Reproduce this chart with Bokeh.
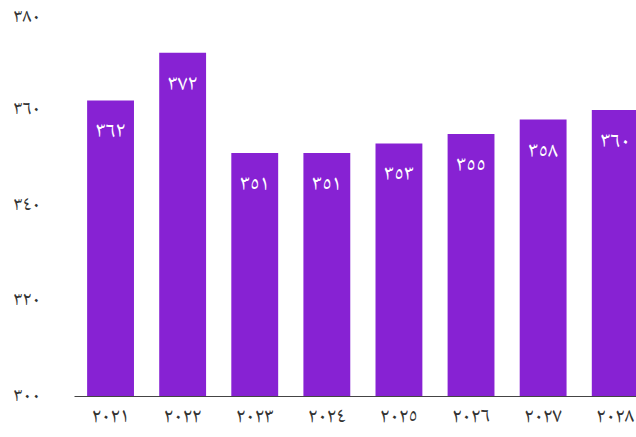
from bokeh.plotting import figure
from bokeh.models import Range1d, FixedTicker, ColumnDataSource
from bokeh.core.properties import value
from bokeh.embed import file_html
from bokeh.resources import INLINE

years = ["2021", "2022", "2023", "2024", "2025", "2026", "2027", "2028"]
values = [362, 372, 351, 351, 353, 355, 358, 360]
y_ticks = [300, 320, 340, 360, 380]

AR = str.maketrans("0123456789", "٠١٢٣٤٥٦٧٨٩")
def ar(s):
    return str(s).translate(AR)

xs = list(range(len(years)))
src = ColumnDataSource(dict(x=xs, top=values, lab=[ar(v) for v in values]))

p = figure(width=636, height=437, output_backend="svg", toolbar_location=None,
           x_range=Range1d(-0.5, 7.295), y_range=Range1d(300, 380),
           min_border_left=74, min_border_right=0, min_border_top=14, min_border_bottom=0)
p.outline_line_color = None
p.background_fill_color = "white"
p.border_fill_color = "white"
p.xgrid.visible = False
p.ygrid.visible = False

fnt = "Noto Naskh Arabic"
p.vbar(x="x", top="top", bottom=300, width=0.65, source=src,
       fill_color="#8722d3", line_color=None)
p.text(x="x", y="top", text="lab", source=src, y_offset=32,
       text_align="center", text_baseline="middle", text_color="white",
       text_font=value(fnt), text_font_size="22px")

xa = p.xaxis[0]
xa.ticker = FixedTicker(ticks=xs)
xa.major_label_overrides = {i: ar(y) for i, y in zip(xs, years)}
xa.major_tick_line_color = None
xa.major_tick_out = 0
xa.major_tick_in = 0
xa.minor_tick_line_color = None
xa.axis_line_color = "#444444"
xa.axis_line_width = 1
xa.major_label_standoff = 3
xa.major_label_text_font = fnt
xa.major_label_text_font_size = "21px"
xa.major_label_text_color = "#333333"

ya = p.yaxis[0]
ya.ticker = FixedTicker(ticks=y_ticks)
ya.major_label_overrides = {t: ar(t) for t in y_ticks}
ya.major_tick_line_color = None
ya.major_tick_out = 0
ya.major_tick_in = 0
ya.minor_tick_line_color = None
ya.axis_line_color = None
ya.major_label_standoff = 34
ya.major_label_text_font = fnt
ya.major_label_text_font_size = "20px"
ya.major_label_text_color = "#333333"

open("out.html", "w").write(file_html(p, INLINE))
